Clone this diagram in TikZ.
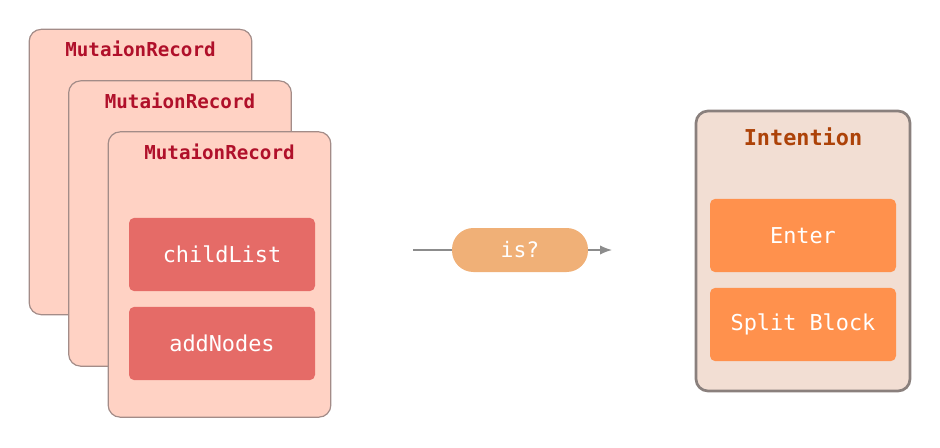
\documentclass[tikz,border=0pt]{standalone}
\usepackage{fontspec}
\setmonofont{DejaVu Sans Mono}
\usepackage{tikz}
\usetikzlibrary{positioning}
\usetikzlibrary{arrows.meta}

\definecolor{cardfill}{HTML}{FFD2C4}
\definecolor{cardline}{HTML}{A38C88}
\definecolor{typefill}{HTML}{E56B67}
\definecolor{rectitle}{HTML}{B0102A}
\definecolor{pillfill}{HTML}{F0B077}
\definecolor{intfill}{HTML}{F2DED3}
\definecolor{intline}{HTML}{8A807D}
\definecolor{inttitle}{HTML}{AD4208}
\definecolor{optfill}{HTML}{FF914D}
\definecolor{wire}{HTML}{8C8C8C}

\begin{document}
\begin{tikzpicture}[x=0.75pt,y=-0.75pt,
card/.style={draw=cardline,fill=cardfill,line width=0.9pt,rounded corners=9pt,
  minimum width=167pt,minimum height=214pt,inner sep=0pt},
rectitle/.style={font=\ttfamily\bfseries\fontsize{14.4}{16}\selectfont,text=rectitle,inner sep=0pt},
typebox/.style={fill=typefill,rounded corners=4pt,minimum width=139.5pt,minimum height=55pt,
  inner sep=0pt,text=white,font=\ttfamily\fontsize{16.4}{18}\selectfont},
optbox/.style={typebox,fill=optfill},
pill/.style={fill=pillfill,rounded corners=16pt,minimum width=102pt,minimum height=33pt,
  inner sep=0pt,text=white,font=\ttfamily\fontsize{16}{18}\selectfont}]
\useasboundingbox (0,0) rectangle (940,447);

% stacked records
\node[card] (rec1) at (140.5,172) {};
\node[rectitle,below=9pt of rec1.north] (t1) {MutaionRecord};
\node[card] (rec2) at (180,223.5) {};
\node[rectitle,below=9pt of rec2.north] (t2) {MutaionRecord};
\node[card] (rec3) at (219.5,274.5) {};
\node[rectitle,below=9pt of rec3.north] (t3) {MutaionRecord};
\node[typebox] (child) at (222,254.5) {childList};
\node[typebox] (add) at (222,343.5) {addNodes};

% intention
\node[draw=intline,fill=intfill,line width=2pt,rounded corners=9pt,
  minimum width=160.5pt,minimum height=210pt,inner sep=0pt] (int) at (803,251) {};
\node[font=\ttfamily\bfseries\fontsize{16.4}{18}\selectfont,text=inttitle,inner sep=0pt,
  below=13pt of int.north] (it) {Intention};
\node[optbox] (enter) at (803,235.5) {Enter};
\node[optbox] (split) at (803,324.5) {Split Block};

% test
\coordinate (src) at (413,250);
\coordinate (dst) at (612,250);
\node[pill] (is) at (520,250) {is?};
\draw[wire,line width=1pt] (src) -- (is);
\draw[wire,line width=1pt,-{Latex[length=9pt,width=7pt]}] (is) -- (dst);
\end{tikzpicture}
\end{document}
